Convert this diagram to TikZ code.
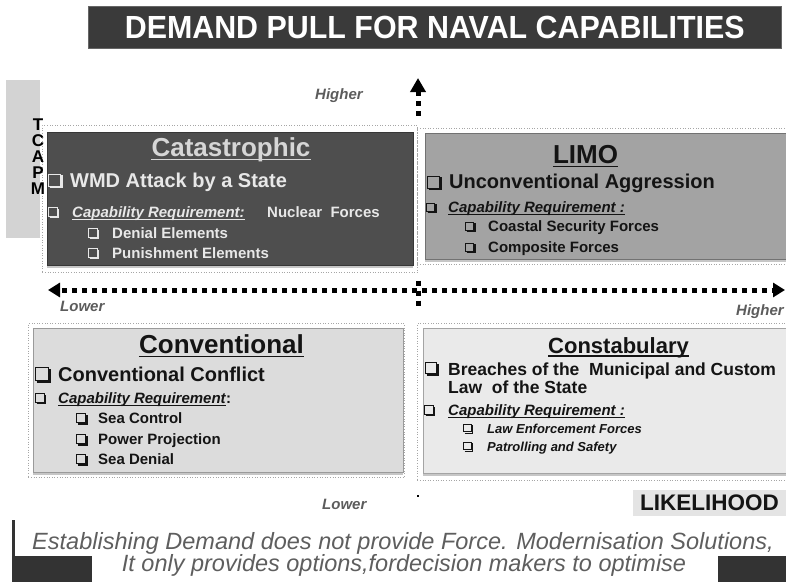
\documentclass[tikz,border=0pt]{standalone}
\usepackage{fontspec}
\usepackage{graphicx}
\setmainfont{Liberation Sans}
\usetikzlibrary{arrows.meta,shadows}
\newcommand\fsz[1]{\fontsize{#1}{#1}\selectfont}
\definecolor{titlebg}{HTML}{3A3A3A}
\definecolor{catbg}{HTML}{4E4E4E}
\definecolor{limobg}{HTML}{A3A3A3}
\definecolor{convbg}{HTML}{DCDCDC}
\definecolor{consbg}{HTML}{EAEAEA}
\definecolor{cattext}{HTML}{E8E8E8}
\definecolor{cattitle}{HTML}{D6D6D6}
\definecolor{axisgray}{HTML}{5C5C5C}
\definecolor{stripbg}{HTML}{D3D3D3}
\definecolor{likebg}{HTML}{E4E4E4}
\definecolor{darktext}{HTML}{141414}
\definecolor{bottomtext}{HTML}{5E5E5E}
\definecolor{barbg}{HTML}{333333}
\tikzset{
  quad/.style={rectangle, inner sep=0, anchor=north west, fill=#1, draw=#1!70!black, line width=0.8pt,
    drop shadow={shadow xshift=0pt, shadow yshift=-2.5pt, opacity=0.45}},
  outerframe/.style={rectangle, inner sep=0, anchor=north west, draw=black!35, dotted, line width=0.6pt},
  txt/.style={anchor=base west, inner sep=0},
  ttl/.style={anchor=base, inner sep=0, font=\fsz{26}\bfseries},
  big/.style={txt, font=\fsz{20}\bfseries},
  mid/.style={txt, font=\fsz{15}\bfseries},
  capreq/.style={txt, font=\fsz{15}\bfseries\itshape},
  axlabel/.style={txt, font=\fsz{15}\bfseries\itshape, text=axisgray},
  dotax/.style={line width=5pt, dash pattern=on 5pt off 5pt, black},
  ulthick/.style={line width=1.8pt},
  ulthin/.style={line width=1.1pt},
  vletter/.style={inner sep=0, anchor=base, font=\fsz{17}\bfseries, text=black},
}
% checkbox: name, x, y (centre), size, colour
\newcommand\chk[5]{%
  \node[rectangle, draw=#5, line width=0.9pt, minimum size=#4, inner sep=0, anchor=west] (#1) at (#2,#3) {};
  \draw[#5, line width=1.3pt] ([xshift=1.6pt,yshift=-1.1pt]#1.south west) -- ([xshift=1.1pt,yshift=-1.1pt]#1.south east) -- ([xshift=1.1pt,yshift=-1.6pt]#1.north east);
}
\begin{document}
\begin{tikzpicture}[x=1pt,y=-1pt]
\useasboundingbox (0,0) rectangle (786,581);
\clip (0,0) rectangle (786,581);

% title
\node[rectangle, fill=titlebg, draw=black!60, minimum width=693pt, minimum height=42pt, inner sep=0,
  anchor=north west, text=white, font=\fsz{32}\bfseries] (title) at (88,6)
  {\scalebox{0.95}[1]{DEMAND PULL FOR NAVAL CAPABILITIES}};

% left strip
\node[rectangle, fill=stripbg, minimum width=34pt, minimum height=158pt, inner sep=0, anchor=north west] (strip) at (6,80) {};

% quadrant frames and boxes
\node[outerframe, minimum width=375pt, minimum height=147pt] (catf) at (42,125) {};
\node[quad=catbg, minimum width=366pt, minimum height=133pt] (cat) at (47,132) {};
\node[outerframe, minimum width=373pt, minimum height=136pt] (limof) at (417,128) {};
\node[quad=limobg, minimum width=365pt, minimum height=126pt] (limo) at (425,133) {};
\node[outerframe, minimum width=376pt, minimum height=154pt] (convf) at (28,323) {};
\node[quad=convbg, minimum width=370pt, minimum height=144pt] (conv) at (33,328) {};
\node[outerframe, minimum width=373pt, minimum height=157pt] (consf) at (417,323) {};
\node[quad=consbg, minimum width=367pt, minimum height=145pt] (cons) at (423,328) {};

% axes
\coordinate (hl) at (48,290);
\coordinate (hr) at (785,290);
\draw[dotax, dash phase=7.5pt, {Triangle[length=12pt,width=14pt]}-{Triangle[length=12pt,width=14pt]}] (hl) -- (hr);
\coordinate (vtopA) at (418,115.5);
\coordinate (vtopB) at (418,78);
\draw[dotax, -{Triangle[length=14pt,width=15pt]}] (vtopA) -- (vtopB);
\coordinate (vmidA) at (418,280.5);
\coordinate (vmidB) at (418,305.5);
\draw[dotax] (vmidA) -- (vmidB);
\node[rectangle, fill=black, minimum size=2pt, inner sep=0] (vdot) at (418,496) {};

\node[axlabel] (hi1) at (315,99) {Higher};
\node[axlabel] (lo1) at (60,311) {Lower};
\node[axlabel] (hi2) at (736,315) {Higher};
\node[axlabel] (lo2) at (322,509) {Lower};

% Catastrophic
\node[ttl, text=cattitle] (catt) at (231,156.5) {Catastrophic};
\draw[cattitle, ulthick] ([yshift=-3pt]catt.base west) -- ([yshift=-3pt]catt.base east);
\chk{c1}{48}{180}{12pt}{cattext}
\node[big, text=cattext] (c1t) at (70,187) {WMD Attack by a State};
\chk{c2}{48}{212}{8.5pt}{cattext}
\node[capreq, text=cattext] (c2t) at (72,217) {Capability Requirement:};
\draw[cattext, ulthin] ([yshift=-2.5pt]c2t.base west) -- ([yshift=-2.5pt]c2t.base east);
\node[mid, text=cattext] (c2n) at (267,217) {Nuclear\ \ Forces};
\chk{c3}{88}{233}{8.5pt}{cattext}
\node[mid, text=cattext] (c3t) at (112,238) {Denial Elements};
\chk{c4}{88}{253}{8.5pt}{cattext}
\node[mid, text=cattext] (c4t) at (112,258) {Punishment Elements};

% LIMO
\node[ttl, text=darktext] (limot) at (585.5,163) {LIMO};
\draw[darktext, ulthick] ([yshift=-3.5pt]limot.base west) -- ([yshift=-3.5pt]limot.base east);
\chk{l1}{427}{182}{12pt}{darktext}
\node[big, text=darktext] (l1t) at (449,188) {Unconventional Aggression};
\chk{l2}{426}{207}{8pt}{darktext}
\node[capreq, text=darktext] (l2t) at (448,212) {Capability Requirement :};
\draw[darktext, ulthin] ([yshift=-2.5pt]l2t.base west) -- ([yshift=-2.5pt]l2t.base east);
\chk{l3}{465}{226}{8pt}{darktext}
\node[mid, text=darktext] (l3t) at (488,231) {Coastal Security Forces};
\chk{l4}{465}{247}{8pt}{darktext}
\node[mid, text=darktext] (l4t) at (488,252) {Composite Forces};

% Conventional
\node[ttl, text=darktext] (convt) at (221.5,353) {Conventional};
\draw[darktext, ulthick] ([yshift=-3.5pt]convt.base west) -- ([yshift=-3.5pt]convt.base east);
\chk{v1}{35}{374}{13pt}{darktext}
\node[big, text=darktext] (v1t) at (58,381.5) {Conventional Conflict};
\chk{v2}{35}{398}{8.5pt}{darktext}
\node[capreq, text=darktext] (v2t) at (58,403) {Capability Requirement};
\draw[darktext, ulthin] ([yshift=-2.5pt]v2t.base west) -- ([yshift=-2.5pt]v2t.base east);
\node[mid, text=darktext, anchor=base west] (v2c) at (v2t.base east) {:};
\chk{v3}{76}{418}{9pt}{darktext}
\node[mid, text=darktext] (v3t) at (98,423) {Sea Control};
\chk{v4}{76}{439}{9pt}{darktext}
\node[mid, text=darktext] (v4t) at (98,444) {Power Projection};
\chk{v5}{76}{459}{9pt}{darktext}
\node[mid, text=darktext] (v5t) at (98,464) {Sea Denial};

% Constabulary
\node[ttl, font=\fsz{22}\bfseries, text=darktext] (const) at (618.5,353) {Constabulary};
\draw[darktext, line width=1.6pt] ([yshift=-3pt]const.base west) -- ([yshift=-3pt]const.base east);
\chk{s1}{425}{368}{11pt}{darktext}
\node[txt, font=\fsz{17.5}\bfseries, text=darktext] (s1t) at (448,375) {Breaches of the\ \ Municipal and Custom};
\node[txt, font=\fsz{17.5}\bfseries, text=darktext] (s1u) at (448,393) {Law\ \ of the State};
\chk{s2}{424}{410}{8.5pt}{darktext}
\node[capreq, text=darktext] (s2t) at (448,415) {Capability Requirement :};
\draw[darktext, ulthin] ([yshift=-2.5pt]s2t.base west) -- ([yshift=-2.5pt]s2t.base east);
\chk{s3}{463}{428}{7.5pt}{darktext}
\node[txt, font=\fsz{13}\bfseries\itshape, text=darktext] (s3t) at (487,433) {Law Enforcement Forces};
\chk{s4}{463}{446}{7.5pt}{darktext}
\node[txt, font=\fsz{13}\bfseries\itshape, text=darktext] (s4t) at (487,451) {Patrolling\ and Safety};

% vertical label
\node[vletter] (tT) at (38,130) {T};
\node[vletter] (tC) at (38,146) {C};
\node[vletter] (tA) at (38,162) {A};
\node[vletter] (tP) at (38,178) {P};
\node[vletter] (tM) at (38,194) {M};

% likelihood
\node[rectangle, fill=likebg, minimum width=153pt, minimum height=26pt, inner sep=0, anchor=north west] (likebox) at (633,490) {};
\node[txt, font=\fsz{22.5}\bfseries, text=darktext] (like) at (640,510) {LIKELIHOOD};

% bottom band
\node[rectangle, fill=barbg, minimum width=3pt, minimum height=61pt, inner sep=0, anchor=north west] (barv) at (12,520) {};
\node[rectangle, fill=barbg, minimum width=80pt, minimum height=26pt, inner sep=0, anchor=north west] (barl) at (12,556) {};
\node[rectangle, fill=barbg, minimum width=68pt, minimum height=26pt, inner sep=0, anchor=north west] (barr) at (718,556) {};
\node[anchor=base, inner sep=0, font=\fsz{23.5}\itshape, text=bottomtext] (msg1) at (403,549) {Establishing Demand does not provide Force. Modernisation Solutions,};
\node[anchor=base, inner sep=0, font=\fsz{23.5}\itshape, text=bottomtext] (msg2) at (404,571) {It only provides options,fordecision makers to optimise};
\end{tikzpicture}
\end{document}
